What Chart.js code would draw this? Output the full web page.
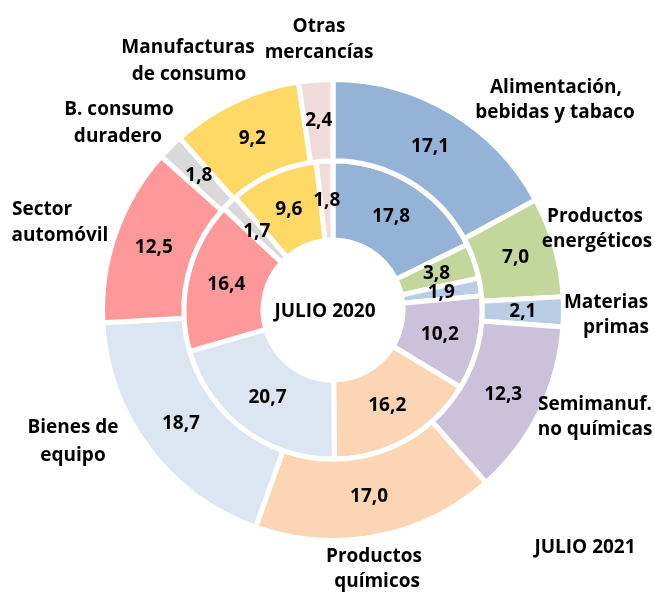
<!DOCTYPE html>
<html>
<head>
<meta charset="utf-8">
<script src="https://cdn.jsdelivr.net/npm/chart.js@4"></script>
<style>
  body { margin: 0; background: #fff; }
  #wrap { width: 655px; height: 595px; position: relative; }
</style>
</head>
<body>
<div id="wrap"><canvas id="sectorChart"></canvas></div>
<script>
// ======================
// DATA
// ======================
const categories = [
  "Alimentación,\nbebidas y tabaco",
  "Productos\nenergéticos",
  "Materias\nprimas",
  "Semimanuf.\nno químicas",
  "Productos\nquímicos",
  "Bienes de\nequipo",
  "Sector\nautomóvil",
  "B. consumo\nduradero",
  "Manufacturas\nde consumo",
  "Otras\nmercancías"
];
const julio2021 = [17.1, 7.0, 2.1, 12.3, 17.0, 18.7, 12.5, 1.8, 9.2, 2.4];
const julio2020 = [17.8, 3.8, 1.9, 10.2, 16.2, 20.7, 16.4, 1.7, 9.6, 1.8];
const sliceColors = ["#95B3D7", "#C3D69B", "#B9CDE5", "#CCC1DA", "#FCD5B5",
                     "#DCE6F2", "#FF9999", "#D9D9D9", "#FFD966", "#F2DCDB"];

// where each category label sits (center of each line), same order as categories
const labelPos = [
  [[556, 88], [555, 113]],
  [[595, 217], [597, 242]],
  [[606, 303], [616, 328]],
  [[595, 405], [595, 430]],
  [[374, 557], [377, 582]],
  [[73, 428], [73, 456]],
  [[42, 210], [60, 236]],
  [[119, 110], [118, 137]],
  [[188, 48], [189, 75]],
  [[319, 27], [319, 53]]
];

const FONT = "bold 19px 'Open Sans'";
const fmt = v => v.toFixed(1).replace(".", ",");

// ======================
// TEXT PLUGIN
// ======================
const textPlugin = {
  id: "textPlugin",
  afterDatasetsDraw(chart) {
    const ctx = chart.ctx;
    ctx.save();
    ctx.font = FONT;
    ctx.fillStyle = "#000";
    ctx.textAlign = "center";
    ctx.textBaseline = "middle";

    // values inside the arcs
    chart.data.datasets.forEach((ds, i) => {
      chart.getDatasetMeta(i).data.forEach((arc, j) => {
        const p = arc.tooltipPosition();
        ctx.fillText(fmt(ds.data[j]), p.x, p.y);
      });
    });

    // category labels
    categories.forEach((cat, i) => {
      cat.split("\n").forEach((line, k) => {
        const [x, y] = labelPos[i][k];
        ctx.fillText(line, x, y);
      });
    });

    // ring titles
    ctx.fillText("JULIO 2020", 325, 312);
    ctx.fillText("JULIO 2021", 585, 548);
    ctx.restore();
  }
};

new Chart(document.getElementById("sectorChart"), {
  type: "doughnut",
  data: {
    labels: categories,
    datasets: [
      {
        label: "JULIO 2021",
        data: julio2021,
        backgroundColor: sliceColors,
        borderColor: "#fff",
        borderWidth: 5,
        weight: 81
      },
      {
        label: "JULIO 2020",
        data: julio2020,
        backgroundColor: sliceColors,
        borderColor: "#fff",
        borderWidth: 5,
        weight: 79
      }
    ]
  },
  options: {
    responsive: true,
    maintainAspectRatio: false,
    animation: false,
    events: [],
    cutout: 70,
    layout: { padding: { top: 77, bottom: 52, left: 100, right: 89 } },
    plugins: {
      legend: { display: false },
      tooltip: { enabled: false }
    }
  },
  plugins: [textPlugin]
});
</script>
</body>
</html>
